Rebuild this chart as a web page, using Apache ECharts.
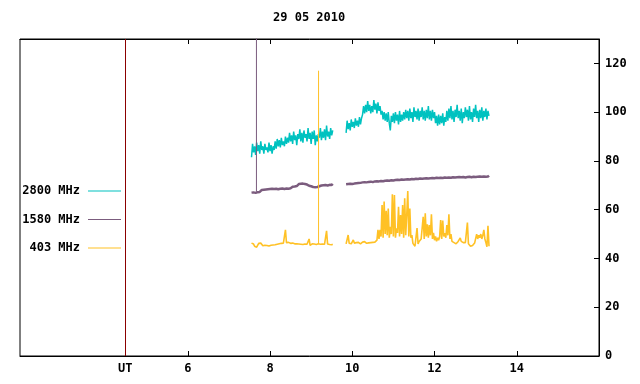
<!DOCTYPE html>
<html>
<head>
<meta charset="utf-8">
<script src="https://cdn.jsdelivr.net/npm/echarts@6/dist/echarts.min.js"></script>
<style>html,body{margin:0;padding:0;background:#fff}#c{width:640px;height:384px}</style>
</head>
<body>
<div id="c"></div>
<script>
// ---- data ----
const TITLE = '29 05 2010';
const seriesNames = ['2800 MHz', '1580 MHz', '403 MHz'];
const TIME_START = 7.55;   // hours UT of first sample
const TIME_STEP = 0.025;   // hours between samples
const UT_POS = 4.48;       // position of the "UT" marker on the time axis
const xTickValues = [6, 8, 10, 12, 14];
const yTickValues = [0, 20, 40, 60, 80, 100, 120];
const GAP = [null, null, null, null, null, null, null, null, null, null, null, null];

const flux2800 = [
  81.5, 87, 83.5, 86, 82.5, 87.5, 84, 86.5, 83, 88,
  84.5, 86, 83, 87, 84.5, 85.5, 83.5, 87.5, 84, 86.5,
  83, 86, 84.5, 88, 85, 89, 86, 88.5, 85.5, 89.5,
  86.5, 88, 86, 90, 87, 89.5, 87.5, 91.5, 88, 90.5,
  87, 92, 88.5, 90.5, 86.5, 91, 89, 93, 88, 91.5,
  87.5, 92.5, 89.5, 91, 88, 93.5, 89, 91.5, 87, 92,
  89, 92.5, 86.5, 90.5, 88, 91, 89.5, 93.5, 88.5, 92,
  89.5, 93, 88.5, 94.5, 90, 92, 89, 93.5, 90.5, 92.5
].concat(GAP, [
  91.5, 96.5, 93, 95.5, 92.5, 97, 94, 96, 93.5, 97.5,
  94.5, 96.5, 94, 98, 95, 97.5, 99, 102.5, 99.5, 103,
  100, 104.5, 100.5, 103, 99.5, 102.5, 100, 105, 101, 103.5,
  99.5, 104, 100.5, 102.5, 99, 100.5, 97, 100, 96.5, 99.5,
  96, 100, 95.5, 92.5, 98.5, 96, 99.5, 95.5, 100, 96.5,
  99, 95, 100.5, 96, 99, 96.5, 100, 97, 101, 97.5,
  100.5, 96.5, 101.5, 97.5, 100, 96, 102, 98, 100.5, 97,
  101.5, 96.5, 100.5, 98, 102, 97, 100.5, 96.5, 101, 97.5,
  102.5, 97, 100.5, 96.5, 101, 97.5, 100, 95.5, 98.5, 94.5,
  99, 95, 98.5, 95.5, 99.5, 94.5, 98, 96, 100.5, 96.5,
  101.5, 97.5, 102.5, 97, 100.5, 96, 101, 98, 103, 97.5,
  100.5, 96.5, 101.5, 95.5, 100, 97.5, 102, 98, 101, 96.5,
  102.5, 97, 100, 96, 101.5, 98, 103, 97.5, 100.5, 96,
  101, 97.5, 102, 96.5, 100.5, 98, 101.5, 97, 100.5, 98.5
]);

const flux1580 = [
  67.0, 67.6, 67.1, 67.5, 66.9, 67.6, 67.2, 67.7, 67.3, 68.0,
  68.1, 68.7, 68.2, 68.6, 68.3, 68.9, 68.4, 68.8, 68.5, 69.1,
  68.6, 69.0, 68.5, 69.2, 68.6, 69.0, 68.4, 69.1, 68.6, 69.2,
  68.7, 69.0, 68.5, 69.1, 68.7, 69.2, 68.6, 69.0, 68.8, 69.3,
  69.4, 69.9, 69.5, 70.1, 69.7, 70.3, 70.5, 71.1, 70.6, 71.2,
  70.7, 71.1, 70.5, 71.0, 70.3, 70.4, 69.8, 70.2, 69.6, 69.9,
  69.3, 69.8, 69.2, 69.7, 69.3, 69.9, 69.6, 70.4, 69.9, 70.5,
  70.0, 70.6, 70.1, 70.5, 69.9, 70.6, 70.2, 70.7, 70.1, 70.6
].concat(GAP, [
  70.4, 71.0, 70.5, 70.9, 70.6, 71.1, 70.5, 71.0, 70.7, 71.2,
  70.8, 71.3, 70.9, 71.5, 71.0, 71.6, 71.2, 71.8, 71.3, 71.7,
  71.2, 71.9, 71.4, 72.0, 71.5, 71.9, 71.3, 72.1, 71.6, 72.0,
  71.7, 72.2, 71.6, 72.3, 71.8, 72.2, 71.7, 72.4, 71.9, 72.5,
  72.0, 72.4, 71.9, 72.6, 72.1, 72.5, 72.0, 72.7, 72.2, 72.6,
  72.3, 72.8, 72.2, 72.7, 72.4, 72.9, 72.3, 72.8, 72.4, 73.0,
  72.5, 72.9, 72.4, 73.0, 72.6, 73.1, 72.5, 72.9, 72.7, 73.2,
  72.6, 73.1, 72.8, 73.2, 72.7, 73.3, 72.8, 73.2, 72.9, 73.4,
  72.8, 73.3, 72.9, 73.5, 73.0, 73.4, 72.9, 73.5, 73.1, 73.4,
  73.0, 73.6, 73.1, 73.5, 73.0, 73.6, 73.2, 73.5, 73.1, 73.7,
  73.2, 73.6, 73.1, 73.7, 73.3, 73.8, 73.2, 73.6, 73.3, 73.8,
  73.4, 73.7, 73.3, 73.9, 73.4, 73.8, 73.2, 73.7, 73.4, 73.9,
  73.5, 73.8, 73.3, 73.9, 73.5, 74.0, 73.4, 73.8, 73.5, 74.0,
  73.6, 73.9, 73.5, 74.0, 73.6, 74.1, 73.5, 73.9, 73.6, 74.0
]);

const flux403 = [
  46.3, 46.8, 45.9, 45.0, 44.4, 44.6, 45.3, 46.2, 46.7, 46.3,
  45.6, 45.2, 45.8, 45.4, 45.9, 45.3, 45.6, 45.1, 45.7, 45.4,
  45.8, 45.5, 46.0, 45.6, 46.1, 45.8, 46.3, 46.0, 46.4, 46.2,
  46.5, 46.3, 46.4, 51.7, 46.5, 46.3, 46.6, 46.4, 46.2, 46.5,
  46.3, 46.1, 46.0, 45.8, 46.0, 45.7, 45.9, 45.6, 45.8, 45.5,
  45.7, 45.6, 45.9, 45.5, 45.8, 45.6, 48.0, 45.4, 45.8, 46.0,
  46.2, 45.9, 46.1, 45.7, 46.3, 46.0, 46.2, 45.8, 46.1, 45.9,
  46.0, 45.8, 46.1, 51.3, 45.9, 46.0, 45.7, 45.9, 45.6, 45.8
].concat(GAP, [
  46.0, 46.8, 49.6, 46.2, 46.5, 46.0, 46.4, 47.6, 46.3, 46.1,
  46.5, 46.2, 46.6, 46.3, 46.0, 46.4, 46.7, 46.3, 46.9, 46.5,
  46.2, 46.6, 46.4, 46.8, 46.5, 47.0, 46.6, 46.9, 46.7, 47.2,
  47.5, 51.7,
  48.0, 51.7, 49.0, 61.9, 48.5, 63.3, 50.0, 59.6, 49.5, 60.5,
  48.5, 53.0, 50.0, 66.3, 49.0, 66.0, 48.5, 52.4, 50.5, 61.2,
  49.0, 57.8, 50.0, 61.9, 48.5, 64.7, 49.5, 58.0, 67.7, 49.0,
  60.5, 48.5, 49.6, 46.2, 45.5, 45.0, 45.6, 52.5, 46.0, 47.0,
  46.5, 48.0, 47.5, 57.1, 48.0, 58.5, 49.0, 54.0, 48.5, 53.7,
  49.5, 58.1, 48.0, 50.5, 47.5, 49.0, 47.0, 48.5, 47.5, 49.0,
  55.8, 48.0, 55.5, 49.0, 50.4, 48.5, 53.7, 49.5, 58.1, 48.0,
  50.0, 47.0, 47.5, 46.5, 47.0, 46.0, 46.5, 47.0, 46.5, 48.4,
  47.0, 47.5, 46.5, 46.0, 46.5, 46.0, 54.7, 46.0, 45.5, 45.0,
  44.8, 45.3, 45.8, 46.3, 46.8, 50.0, 48.0, 49.5, 48.5, 50.0,
  48.0, 49.5, 51.7, 48.0, 46.5, 44.8, 53.4, 45.0
]);

// isolated spikes: [time, base value, peak value]
const spikes2800 = [];
const spikes1580 = [[7.67, 67.4, 140]];
const spikes403 = [[9.18, 46.0, 117]];

const colors = ['#00c2c0', '#7b5c7e', '#ffc125'];
const widths = [1.5, 2.5, 1.6];

// ---- build ----
function build(values) {
  return values.map((v, k) => [+(TIME_START + TIME_STEP * k).toFixed(4), v]);
}
function buildSpikes(spikes) {
  const pts = [];
  spikes.forEach(s => { pts.push([s[0], s[1]], [s[0], s[2]], null); });
  return pts.map(p => p || [NaN, NaN]);
}

const FONT = { fontFamily: 'DejaVu Sans Mono', fontWeight: 'bold', fontSize: 12, color: '#000' };
const chart = echarts.init(document.getElementById('c'), null, { renderer: 'canvas' });
const mainSets = [build(flux2800), build(flux1580), build(flux403)];
const spikeSets = [buildSpikes(spikes2800), buildSpikes(spikes1580), buildSpikes(spikes403)];
const legendTops = [184, 212.5, 241];

const series = [];
seriesNames.forEach((n, i) => {
  series.push({
    name: n, type: 'line', data: mainSets[i],
    showSymbol: false, symbol: 'none', connectNulls: false, clip: true,
    color: colors[i], lineStyle: { color: colors[i], width: widths[i] },
    markLine: i === 0 ? { silent: true, symbol: ['none', 'none'], label: { show: false },
      lineStyle: { color: '#8b0000', width: 1, type: 'solid' }, data: [{ xAxis: UT_POS }] } : undefined
  });
  series.push({
    name: n, type: 'line', data: spikeSets[i],
    showSymbol: false, symbol: 'none', connectNulls: false, clip: true,
    color: colors[i], lineStyle: { color: colors[i], width: 1 }
  });
});

chart.setOption({
  animation: false,
  backgroundColor: '#fff',
  title: { text: TITLE, left: 273, top: 12, padding: 0, textStyle: Object.assign({}, FONT) },
  grid: { left: 20, right: 41, top: 39, bottom: 28, show: true, borderColor: '#000', borderWidth: 1, containLabel: false, outerBoundsMode: 'none' },
  legend: seriesNames.map((n, i) => ({
    data: [n], right: 519, top: legendTops[i], orient: 'horizontal', align: 'right',
    icon: 'rect', itemWidth: 33, itemHeight: 1, padding: 0, selectedMode: false,
    textStyle: Object.assign({}, FONT, { padding: [0, 3, 0, 0], lineHeight: 14 })
  })),
  xAxis: [
    { type: 'value', position: 'bottom', min: 1.92, max: 16,
      axisLine: { show: true, lineStyle: { color: '#000', width: 1 } },
      axisTick: { show: true, inside: true, length: 5, customValues: xTickValues, lineStyle: { color: '#000' } },
      axisLabel: { show: true, margin: 7, customValues: [UT_POS].concat(xTickValues),
        formatter: v => Math.abs(v - UT_POS) < 0.01 ? 'UT' : String(v), ...FONT },
      splitLine: { show: false } },
    { type: 'value', position: 'top', min: 1.92, max: 16,
      axisLine: { show: true, lineStyle: { color: '#000', width: 1 } },
      axisTick: { show: true, inside: true, length: 5, customValues: xTickValues, lineStyle: { color: '#000' } },
      axisLabel: { show: false }, splitLine: { show: false } }
  ],
  yAxis: { type: 'value', position: 'right', min: 0, max: 130,
    axisLine: { show: true, lineStyle: { color: '#000', width: 1 } },
    axisTick: { show: true, inside: true, length: 5, customValues: yTickValues, lineStyle: { color: '#000' } },
    axisLabel: { show: true, margin: 6, customValues: yTickValues, ...FONT },
    splitLine: { show: false } },
  series: series
});
</script>
</body>
</html>
